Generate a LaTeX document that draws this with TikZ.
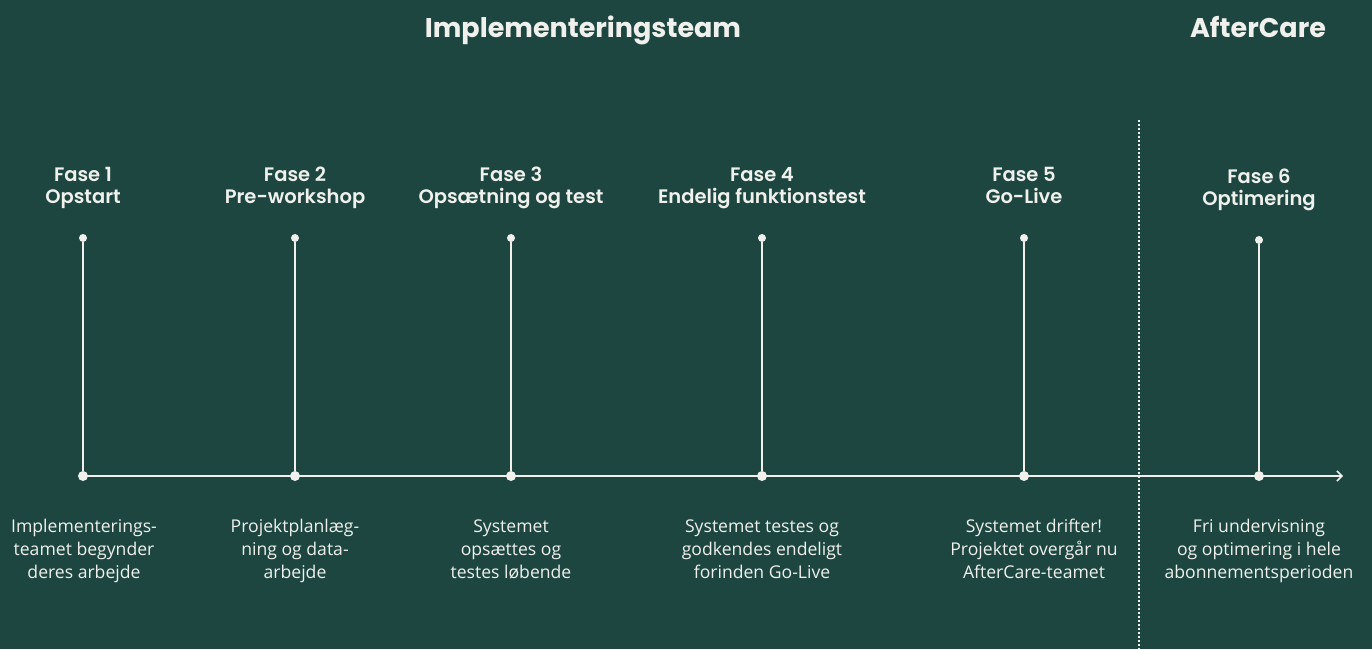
\documentclass[tikz,border=0pt]{standalone}
\usepackage{fontspec}
\setmainfont{Open Sans}
\newfontfamily\headfont{Poppins}[UprightFont=* SemiBold, BoldFont=* Bold]
\usetikzlibrary{arrows.meta}
\definecolor{bg}{HTML}{1D4641}
\definecolor{fg}{HTML}{F0F0EC}
\tikzset{
  x=1pt, y=-1pt,
  phase/.style={font=\headfont\fontsize{19.5}{23}\selectfont, text=fg, anchor=base, inner sep=0pt},
  desc/.style={font=\fontsize{17.6}{23}\selectfont, text=fg, align=center, anchor=base, inner sep=0pt},
  stem/.style={draw=fg, line width=1.5pt},
  dot/.style={circle, fill=fg, inner sep=0pt, minimum size=#1},
  title/.style={font=\headfont\fontsize{27}{30}\selectfont\bfseries, text=fg, anchor=base, inner sep=0pt},
}
\begin{document}
\begin{tikzpicture}
\fill[bg] (0,0) rectangle (1372,649);
\useasboundingbox (0,0) rectangle (1372,649);
\node[title] (t1) at (583,37) {Implementeringsteam};
\node[title] (t2) at (1258,37) {AfterCare};
% timeline
\coordinate (start) at (83,476);
\coordinate (end) at (1343,476);
\draw[stem, -{Straight Barb[length=5pt,width=10pt]}] (start) -- (end);
\coordinate (dtop) at (1139,120);
\coordinate (dbot) at (1139,649);
\draw[draw=fg, line width=1.5pt, dash pattern=on 2pt off 2pt] (dtop) -- (dbot);
\foreach \n/\x/\yt/\ha/\hb in {
 1/83/238/{Fase 1}/{Opstart},
 2/295/238/{Fase 2}/{Pre-workshop},
 3/511/238/{Fase 3}/{Opsætning og test},
 4/762/238/{Fase 4}/{Endelig funktionstest},
 5/1024/238/{Fase 5}/{Go-Live},
 6/1259/240/{Fase 6}/{Optimering}}{
  \node[dot=8pt] (top\n) at (\x,\yt) {};
  \node[dot=10pt] (bot\n) at (\x,476) {};
  \draw[stem] (top\n) -- (bot\n);
  \node[phase] (ha\n) at (\x,\yt-57) {\ha};
  \node[phase] (hb\n) at (\x,\yt-35) {\hb};
}
\foreach \n/\x/\la/\lb/\lc in {
 1/84/{Implementerings-}/{teamet begynder}/{deres arbejde},
 2/295/{Projektplanlæg-}/{ning og data-}/{arbejde},
 3/511/{Systemet}/{opsættes og}/{testes løbende},
 4/762/{Systemet testes og}/{godkendes endeligt}/{forinden Go-Live},
 5/1034/{Systemet drifter!}/{Projektet overgår nu}/{AfterCare-teamet},
 6/1259/{Fri undervisning}/{og optimering i hele}/{abonnementsperioden}}{
  \node[desc] (da\n) at (\x,532) {\la};
  \node[desc] (db\n) at (\x,555) {\lb};
  \node[desc] (dc\n) at (\x,578) {\lc};
}
\end{tikzpicture}
\end{document}
